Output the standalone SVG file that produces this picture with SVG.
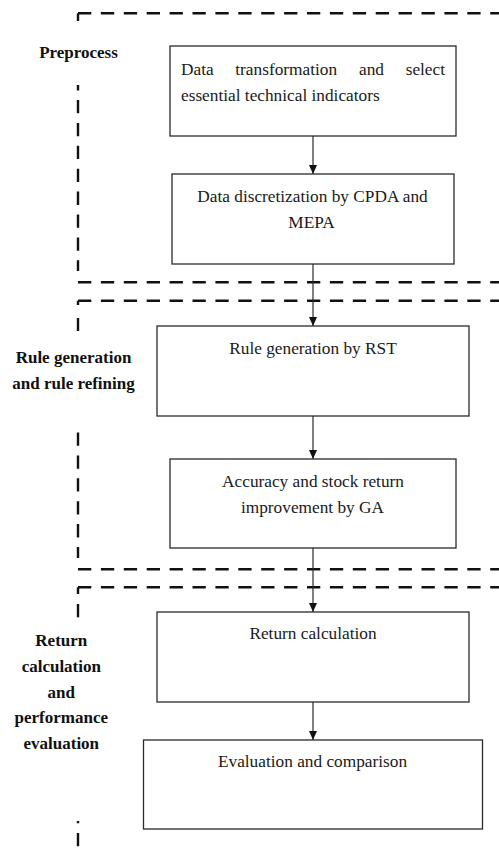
<svg xmlns="http://www.w3.org/2000/svg" width="499" height="849" viewBox="0 0 499 849">
<style>
.bg{fill:#ffffff}
.box{fill:#ffffff;stroke:#2a2a2a;stroke-width:1.3}
.t{font-family:"Liberation Serif","Times New Roman",serif;font-size:17.3px;fill:#1a1a1a}
.c{text-anchor:middle}
.lbl{font-family:"Liberation Serif","Times New Roman",serif;font-size:17px;font-weight:bold;fill:#111;text-anchor:middle}
.dash{fill:none;stroke:#111;stroke-width:2.4;stroke-dasharray:13.3 9.6}
.solid{fill:none;stroke:#111;stroke-width:2.4}
.conn{fill:none;stroke:#2a2a2a;stroke-width:1.2}
</style>
<defs>
<marker id="arr" markerUnits="userSpaceOnUse" markerWidth="9" markerHeight="8" refX="9" refY="4" orient="auto">
<path d="M0,0 L9,4 L0,8 z" fill="#111"/>
</marker>
</defs>
<rect class="bg" x="0" y="0" width="499" height="849"/>

<g id="section-frames">
<!-- section 1 -->
<line class="dash" x1="78" y1="13.3" x2="499" y2="13.3"/>
<path class="solid" d="M78,21 V13.3"/>
<line class="dash" x1="78" y1="85" x2="78" y2="271" style="stroke-dashoffset:7.9"/>
<line class="dash" x1="78" y1="282.3" x2="499" y2="282.3"/>
<!-- section 2 -->
<line class="dash" x1="78" y1="300.7" x2="499" y2="300.7"/>
<path class="solid" d="M78,305 V300.7"/>
<line class="dash" x1="78" y1="318" x2="78" y2="331"/>
<line class="dash" x1="78" y1="432.5" x2="78" y2="558"/>
<line class="dash" x1="78" y1="569.3" x2="499" y2="569.3"/>
<!-- section 3 -->
<line class="dash" x1="78" y1="587.3" x2="499" y2="587.3"/>
<path class="solid" d="M78,594 V587.3"/>
<line class="dash" x1="78" y1="604" x2="78" y2="617.3"/>
<line class="dash" x1="78" y1="821" x2="78" y2="849" style="stroke-dashoffset:11"/>
</g>

<g id="label-preprocess">
<text class="lbl" x="78.5" y="58.3">Preprocess</text>
</g>
<g id="label-rule">
<text class="lbl" x="73.5" y="363.3">Rule generation</text>
<text class="lbl" x="73.5" y="389">and rule refining</text>
</g>
<g id="label-return">
<text class="lbl" x="61.3" y="646">Return</text>
<text class="lbl" x="61.3" y="671.7">calculation</text>
<text class="lbl" x="61.3" y="697.7">and</text>
<text class="lbl" x="61.3" y="723.3">performance</text>
<text class="lbl" x="61.3" y="749.3">evaluation</text>
</g>

<g id="connectors">
<line class="conn" x1="313" y1="136" x2="313" y2="174" marker-end="url(#arr)"/>
<line class="conn" x1="313" y1="264" x2="313" y2="326" marker-end="url(#arr)"/>
<line class="conn" x1="313" y1="416" x2="313" y2="459" marker-end="url(#arr)"/>
<line class="conn" x1="313" y1="548" x2="313" y2="612" marker-end="url(#arr)"/>
<line class="conn" x1="313" y1="702" x2="313" y2="740" marker-end="url(#arr)"/>
</g>

<g id="node-transform">
<rect class="box" x="170" y="46" width="286" height="90"/>
<text class="t" x="181" y="75">Data</text>
<text class="t" x="235.3" y="75">transformation</text>
<text class="t" x="359" y="75">and</text>
<text class="t" x="445" y="75" text-anchor="end">select</text>
<text class="t" x="181" y="100.7">essential technical indicators</text>
</g>
<g id="node-discretization">
<rect class="box" x="172" y="174" width="282" height="90"/>
<text class="t c" x="312.5" y="202.3">Data discretization by CPDA and</text>
<text class="t c" x="311.5" y="228.3">MEPA</text>
</g>
<g id="node-rst">
<rect class="box" x="157" y="326" width="312" height="90"/>
<text class="t c" x="313" y="354">Rule generation by RST</text>
</g>
<g id="node-ga">
<rect class="box" x="170" y="459" width="286" height="89"/>
<text class="t c" x="313" y="486.7">Accuracy and stock return</text>
<text class="t c" x="312.5" y="512.7">improvement by GA</text>
</g>
<g id="node-return">
<rect class="box" x="157" y="612" width="312" height="90"/>
<text class="t c" x="313" y="639.3">Return calculation</text>
</g>
<g id="node-evaluation">
<rect class="box" x="143.5" y="740" width="339" height="89"/>
<text class="t c" x="312.5" y="767.3">Evaluation and comparison</text>
</g>
</svg>
